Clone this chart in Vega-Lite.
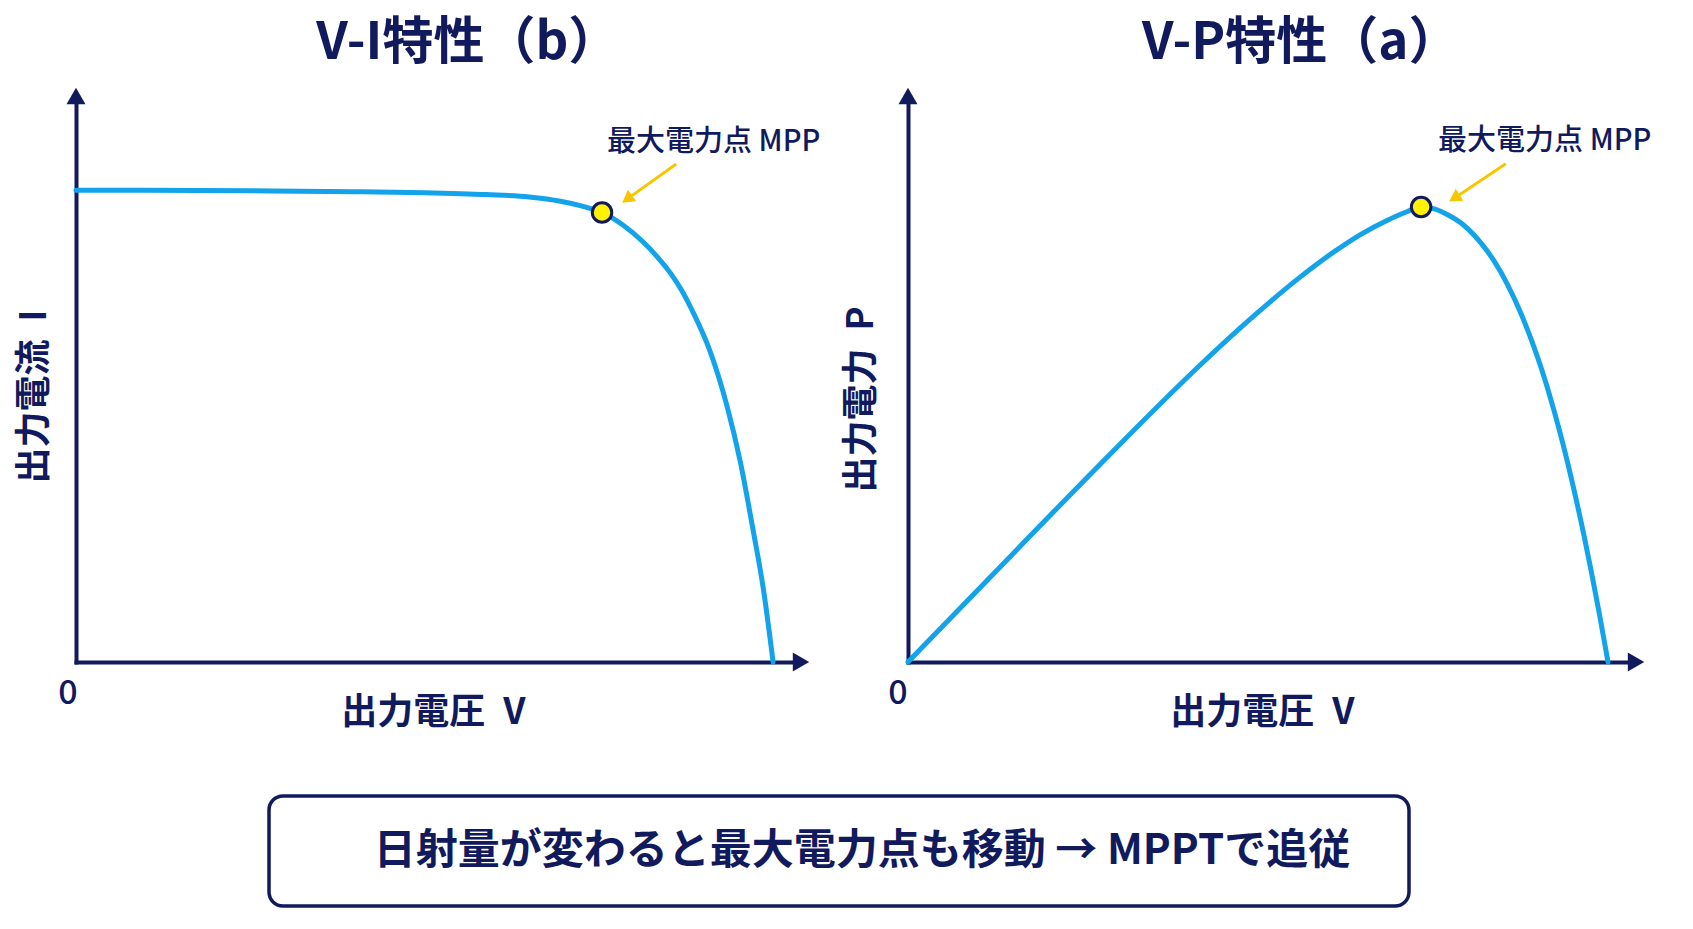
{
  "$schema": "https://vega.github.io/schema/vega-lite/v6.json",
  "background": "#ffffff",
  "padding": {"left": 16, "top": 18, "right": 10, "bottom": 10},
  "config": {
    "font": "Noto Sans CJK JP",
    "view": {"stroke": null},
    "axis": {
      "domainColor": "#111a5c",
      "domainWidth": 4,
      "domainCap": "square",
      "ticks": false,
      "labels": false,
      "grid": false,
      "titleColor": "#111a5c",
      "titleFontSize": 36,
      "titleFontWeight": 600,
      "titleBaseline": "middle",
      "titleAlign": "center",
      "zindex": 0
    }
  },
  "datasets": {
    "iv": [
      {"V": 0.0, "I": 1.0},
      {"V": 0.1, "I": 1.0},
      {"V": 0.25, "I": 0.999},
      {"V": 0.4, "I": 0.997},
      {"V": 0.5, "I": 0.995},
      {"V": 0.589, "I": 0.991},
      {"V": 0.65, "I": 0.986},
      {"V": 0.695, "I": 0.977},
      {"V": 0.725, "I": 0.967},
      {"V": 0.7546, "I": 0.953},
      {"V": 0.785, "I": 0.926},
      {"V": 0.814, "I": 0.89},
      {"V": 0.835, "I": 0.857},
      {"V": 0.852, "I": 0.826},
      {"V": 0.87, "I": 0.785},
      {"V": 0.885, "I": 0.742},
      {"V": 0.91, "I": 0.657},
      {"V": 0.934, "I": 0.542},
      {"V": 0.953, "I": 0.424},
      {"V": 0.971, "I": 0.282},
      {"V": 0.986, "I": 0.155},
      {"V": 1.0, "I": 0.0}
    ],
    "iv_mpp": [{"V": 0.7546, "I": 0.953}],
    "pv": [
      {"V": 0.0, "P": 0.0},
      {"V": 0.133, "P": 0.211},
      {"V": 0.276, "P": 0.437},
      {"V": 0.419, "P": 0.655},
      {"V": 0.49, "P": 0.755},
      {"V": 0.561, "P": 0.847},
      {"V": 0.61, "P": 0.903},
      {"V": 0.647, "P": 0.94},
      {"V": 0.685, "P": 0.971},
      {"V": 0.71, "P": 0.988},
      {"V": 0.733, "P": 1.0},
      {"V": 0.752, "P": 0.996},
      {"V": 0.771, "P": 0.983},
      {"V": 0.794, "P": 0.96},
      {"V": 0.819, "P": 0.92},
      {"V": 0.837, "P": 0.882},
      {"V": 0.857, "P": 0.828},
      {"V": 0.876, "P": 0.765},
      {"V": 0.89, "P": 0.71},
      {"V": 0.909, "P": 0.625},
      {"V": 0.923, "P": 0.552},
      {"V": 0.937, "P": 0.471},
      {"V": 0.951, "P": 0.381},
      {"V": 0.966, "P": 0.276},
      {"V": 0.976, "P": 0.2},
      {"V": 0.988, "P": 0.103},
      {"V": 1.0, "P": 0.0}
    ],
    "pv_mpp": [{"V": 0.733, "P": 1.0}]
  },
  "spacing": 64,
  "vconcat": [
    {
      "bounds": "flush",
      "spacing": 107,
      "hconcat": [
        {
          "width": 725,
          "height": 566,
          "data": {"name": "iv_mpp"},
          "encoding": {
            "x": {"field": "V", "type": "quantitative", "scale": {"domain": [0, 1.04], "nice": false},
                  "axis": {"title": "出力電圧\u2002V", "titleX": 357, "titleY": 50}},
            "y": {"field": "I", "type": "quantitative", "scale": {"domain": [0, 1.2], "nice": false},
                  "axis": {"title": "出力電流\u2002I", "titleX": -42, "titleY": 300, "titleAngle": 270}}
          },
          "layer": [
            {"data": {"name": "iv"},
             "mark": {"type": "line", "color": "#12a3ea", "strokeWidth": 5, "interpolate": "monotone", "strokeCap": "round"}},
            {"mark": {"type": "text", "text": "V-I特性（b）", "fontSize": 51, "fontWeight": "bold", "color": "#111a5c", "baseline": "middle", "align": "center"},
             "encoding": {"x": {"datum": 0.562}, "y": {"datum": 1.31}}},
            {"mark": {"type": "point", "shape": "triangle-up", "filled": true, "color": "#111a5c", "size": 360, "opacity": 1},
             "encoding": {"x": {"datum": 0}, "y": {"datum": 1.2}}},
            {"mark": {"type": "point", "shape": "triangle-right", "filled": true, "color": "#111a5c", "size": 360, "opacity": 1},
             "encoding": {"x": {"datum": 1.04}, "y": {"datum": 0}}},
            {"mark": {"type": "text", "text": "0", "fontSize": 34, "fontWeight": 500, "color": "#111a5c", "dx": -8, "dy": 32, "baseline": "middle"},
             "encoding": {"x": {"datum": 0}, "y": {"datum": 0}}},
            {"mark": {"type": "rule", "color": "#f7c600", "strokeWidth": 3},
             "encoding": {"x": {"datum": 0.861}, "y": {"datum": 1.056}, "x2": {"datum": 0.793}, "y2": {"datum": 0.984}}},
            {"mark": {"type": "point", "shape": "triangle", "angle": 234, "filled": true, "color": "#f7c600", "size": 200, "opacity": 1},
             "encoding": {"x": {"datum": 0.793}, "y": {"datum": 0.984}}},
            {"mark": {"type": "point", "shape": "circle", "filled": true, "fill": "#fff200", "stroke": "#111a5c", "strokeWidth": 3, "size": 380, "opacity": 1}},
            {"mark": {"type": "text", "text": "最大電力点 MPP", "align": "left", "baseline": "middle", "dx": 5, "dy": -71, "fontSize": 29, "fontWeight": 500, "color": "#111a5c"}}
          ]
        },
        {
          "width": 728,
          "height": 566,
          "data": {"name": "pv_mpp"},
          "encoding": {
            "x": {"field": "V", "type": "quantitative", "scale": {"domain": [0, 1.04], "nice": false},
                  "axis": {"title": "出力電圧\u2002V", "titleX": 354, "titleY": 50}},
            "y": {"field": "P", "type": "quantitative", "scale": {"domain": [0, 1.244], "nice": false},
                  "axis": {"title": "出力電力\u2002P", "titleX": -47, "titleY": 303, "titleAngle": 270}}
          },
          "layer": [
            {"data": {"name": "pv"},
             "mark": {"type": "line", "color": "#12a3ea", "strokeWidth": 5, "interpolate": "monotone", "strokeCap": "round"}},
            {"mark": {"type": "text", "text": "V-P特性（a）", "fontSize": 51, "fontWeight": "bold", "color": "#111a5c", "baseline": "middle", "align": "center"},
             "encoding": {"x": {"datum": 0.561}, "y": {"datum": 1.358}}},
            {"mark": {"type": "point", "shape": "triangle-up", "filled": true, "color": "#111a5c", "size": 360, "opacity": 1},
             "encoding": {"x": {"datum": 0}, "y": {"datum": 1.244}}},
            {"mark": {"type": "point", "shape": "triangle-right", "filled": true, "color": "#111a5c", "size": 360, "opacity": 1},
             "encoding": {"x": {"datum": 1.04}, "y": {"datum": 0}}},
            {"mark": {"type": "text", "text": "0", "fontSize": 34, "fontWeight": 500, "color": "#111a5c", "dx": -10, "dy": 32, "baseline": "middle"},
             "encoding": {"x": {"datum": 0}, "y": {"datum": 0}}},
            {"mark": {"type": "rule", "color": "#f7c600", "strokeWidth": 3},
             "encoding": {"x": {"datum": 0.854}, "y": {"datum": 1.095}, "x2": {"datum": 0.783}, "y2": {"datum": 1.022}}},
            {"mark": {"type": "point", "shape": "triangle", "angle": 237, "filled": true, "color": "#f7c600", "size": 200, "opacity": 1},
             "encoding": {"x": {"datum": 0.783}, "y": {"datum": 1.022}}},
            {"mark": {"type": "point", "shape": "circle", "filled": true, "fill": "#fff200", "stroke": "#111a5c", "strokeWidth": 3, "size": 380, "opacity": 1}},
            {"mark": {"type": "text", "text": "最大電力点 MPP", "align": "left", "baseline": "middle", "dx": 17, "dy": -66, "fontSize": 29, "fontWeight": 500, "color": "#111a5c"}}
          ]
        }
      ]
    },
    {
      "bounds": "flush",
      "spacing": 192,
      "hconcat": [
        {
          "width": 1,
          "height": 110,
          "data": {"values": [{"msg": ""}]},
          "mark": {"type": "text", "opacity": 0},
          "encoding": {"text": {"field": "msg"}}
        },
        {
          "width": 1140,
          "height": 110,
          "view": {"stroke": "#111a5c", "strokeWidth": 3.5, "cornerRadius": 14, "fill": "#ffffff"},
          "data": {"values": [{"msg": "日射量が変わると最大電力点も移動 → MPPTで追従"}]},
          "mark": {"type": "text", "fontSize": 42, "fontWeight": "bold", "color": "#111a5c", "dx": 23, "baseline": "middle"},
          "encoding": {"text": {"field": "msg"}}
        }
      ]
    }
  ]
}
